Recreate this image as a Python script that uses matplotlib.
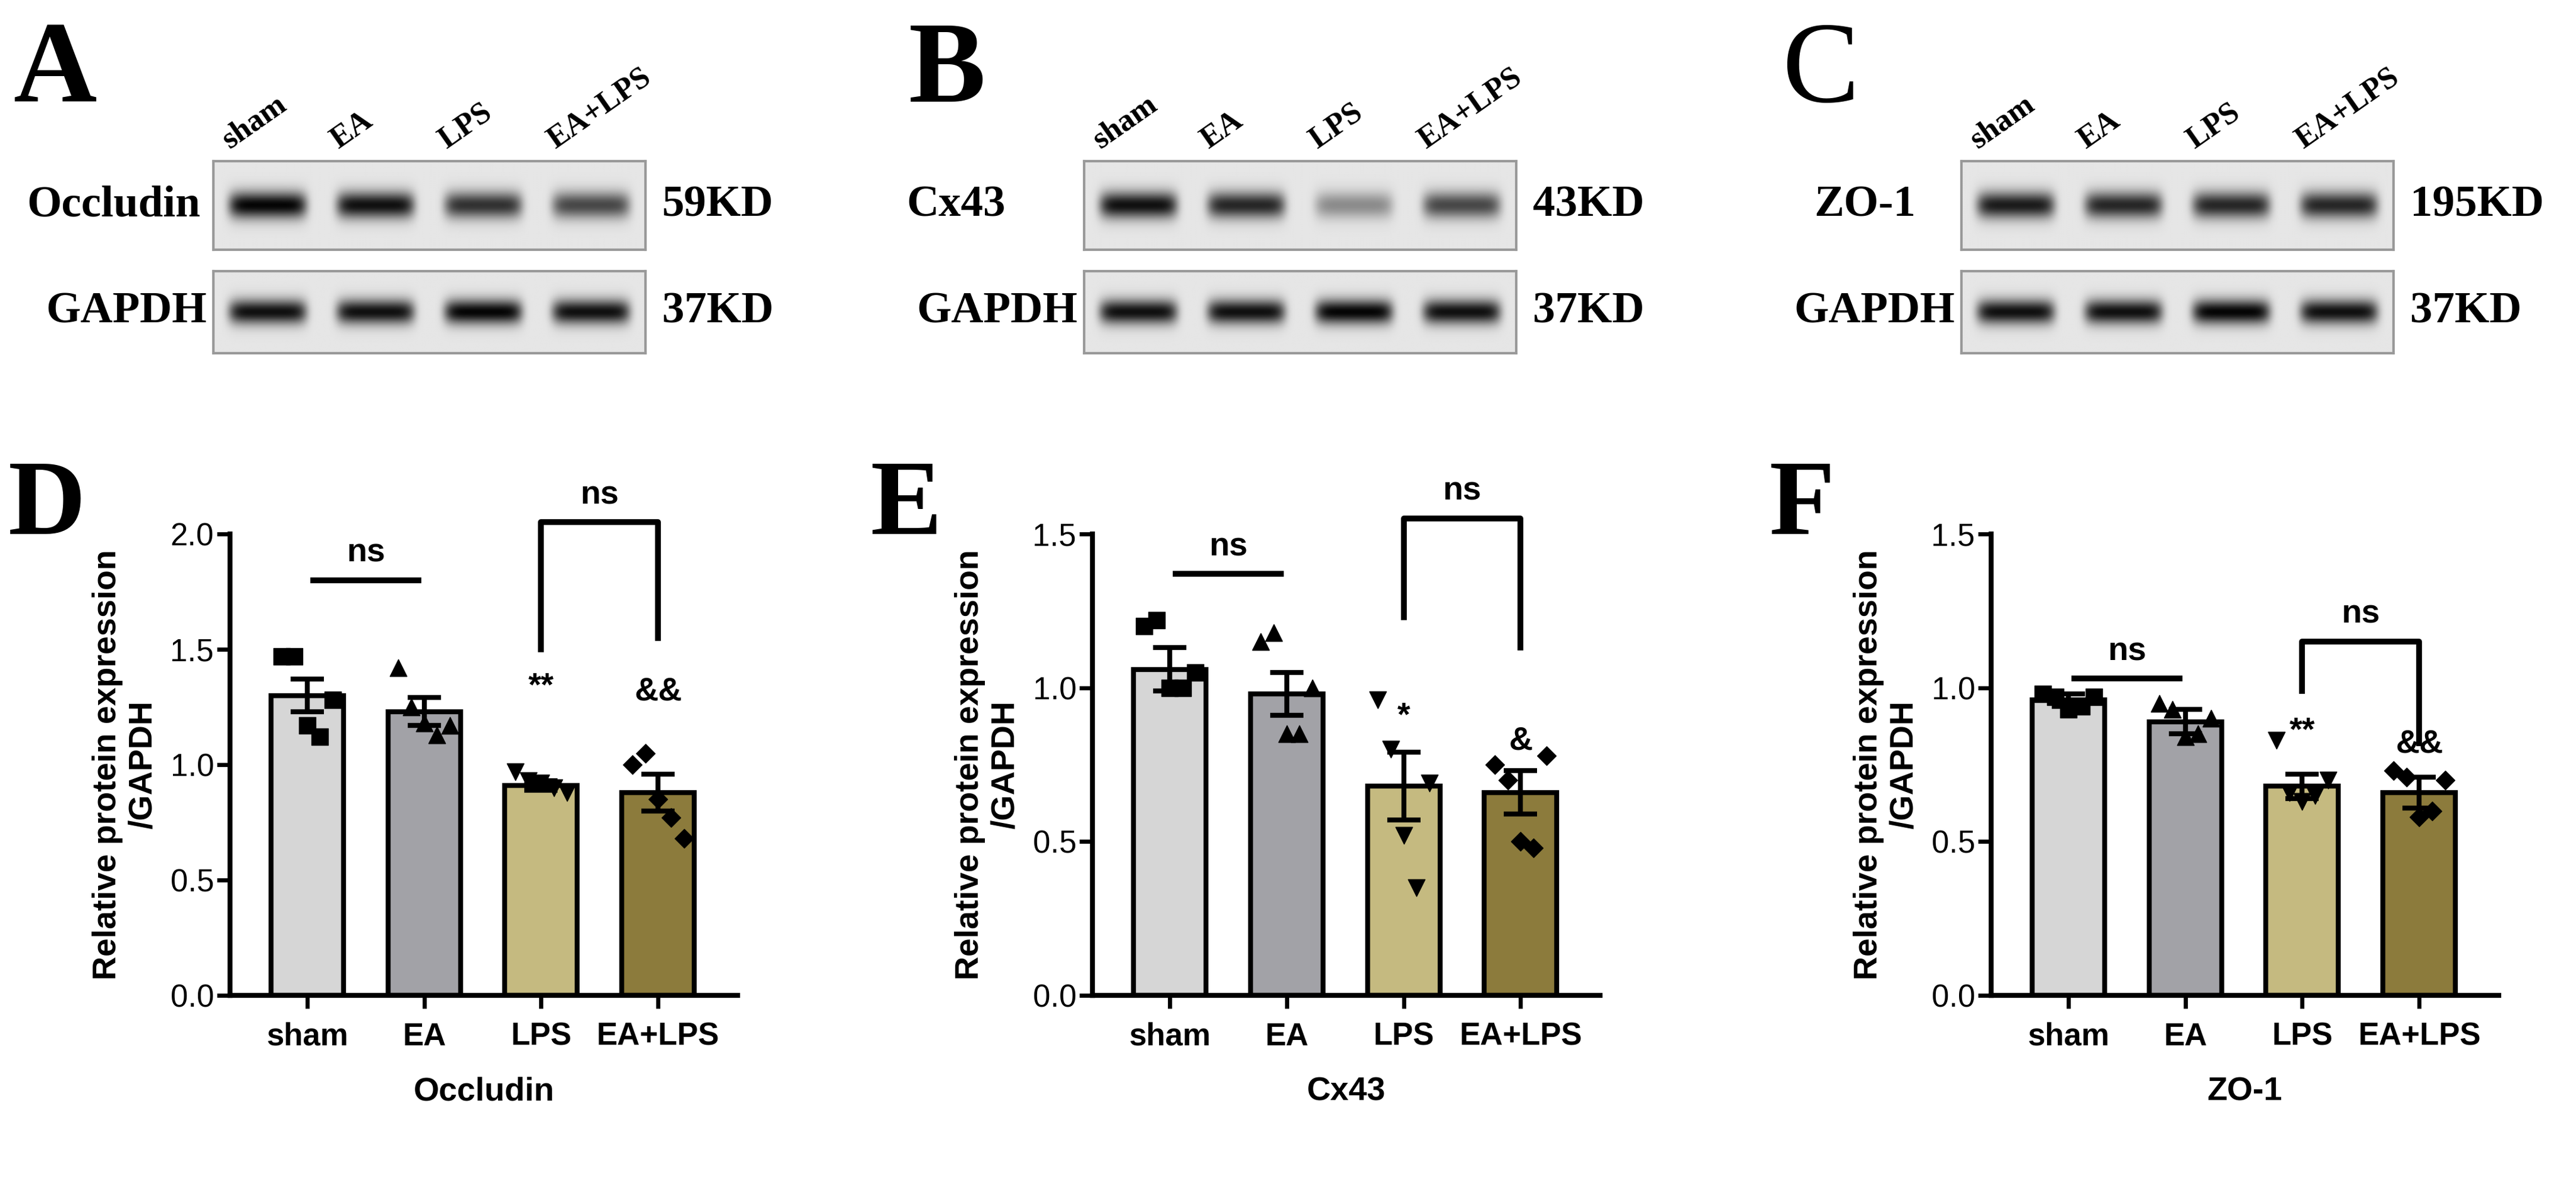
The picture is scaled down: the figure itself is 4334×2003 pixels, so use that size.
import numpy as np
import matplotlib
matplotlib.use("Agg")
import matplotlib.pyplot as plt

groups = ["sham", "EA", "LPS", "EA+LPS"]
colors = ["#d6d6d6", "#a2a2a7", "#c5ba80", "#8c7b3c"]
markers = ["s", "^", "v", "D"]

# bar charts: means, sem, individual points
occ_mean = [1.30, 1.23, 0.91, 0.88]
occ_sem = [0.07, 0.06, 0.02, 0.08]
occ_pts = [[1.47, 1.47, 1.17, 1.12, 1.28],
           [1.42, 1.25, 1.18, 1.13, 1.17],
           [0.97, 0.93, 0.92, 0.90, 0.88],
           [1.00, 1.05, 0.85, 0.77, 0.68]]
cx_mean = [1.06, 0.98, 0.68, 0.66]
cx_sem = [0.07, 0.07, 0.11, 0.07]
cx_pts = [[1.20, 1.22, 1.00, 1.00, 1.05],
          [1.15, 1.18, 0.85, 0.85, 1.00],
          [0.96, 0.80, 0.52, 0.35, 0.69],
          [0.75, 0.70, 0.50, 0.48, 0.78]]
zo_mean = [0.96, 0.89, 0.68, 0.66]
zo_sem = [0.02, 0.04, 0.04, 0.05]
zo_pts = [[0.98, 0.97, 0.93, 0.94, 0.97],
          [0.95, 0.93, 0.84, 0.85, 0.90],
          [0.83, 0.66, 0.63, 0.65, 0.70],
          [0.73, 0.71, 0.58, 0.60, 0.70]]

# blot band intensities per lane (0..1)
occ_band = [1.0, 0.95, 0.8, 0.7]
cx_band = [0.95, 0.85, 0.4, 0.7]
zo_band = [0.9, 0.85, 0.85, 0.85]
gapdh_band = [0.95, 0.95, 1.0, 0.95]

W, H = 1568.0, 725.0
fig = plt.figure(figsize=(43.34, 20.03), dpi=100)


def box(x0, x1, y0, y1):
    return [x0 / W, 1 - y1 / H, (x1 - x0) / W, (y1 - y0) / H]


def blot(x0, x1, y0, y1, lanes):
    ax = fig.add_axes(box(x0, x1, y0, y1))
    nx, ny = 400, 100
    xx = np.linspace(0, 4, nx)
    yy = np.linspace(-1, 1, ny)
    img = np.zeros((ny, nx))
    for i, v in enumerate(lanes):
        lx = np.exp(-((xx - (i + 0.5)) / 0.36) ** 8)
        ly = np.exp(-(yy / 0.3) ** 2)
        img += v * np.outer(ly, lx)
    img = 0.9 - 0.88 * np.clip(img, 0, 1)
    ax.imshow(img, cmap="gray", vmin=0, vmax=1, aspect="auto")
    ax.set_xticks([])
    ax.set_yticks([])
    for s in ax.spines.values():
        s.set_color("#999999")
        s.set_linewidth(3)


serif = "Liberation Serif"


def blot_panel(letter, lx, name, nx, band, kd, bx0, bold=True):
    fw = "bold" if bold else "normal"
    fig.text(lx / W, 1 - 62 / H, letter, fontsize=140, fontweight=fw, family=serif)
    bx1 = bx0 + 263
    blot(bx0, bx1, 98, 152, band)
    blot(bx0, bx1, 165, 215, gapdh_band)
    fig.text(nx / W, 1 - 125 / H, name, fontsize=54, fontweight="bold", family=serif,
             ha="right", va="center")
    fig.text((bx0 - 4) / W, 1 - 190 / H, "GAPDH", fontsize=54, fontweight="bold",
             family=serif, ha="right", va="center")
    fig.text((bx1 + 10) / W, 1 - 125 / H, kd, fontsize=54, fontweight="bold",
             family=serif, va="center")
    fig.text((bx1 + 10) / W, 1 - 190 / H, "37KD", fontsize=54, fontweight="bold",
             family=serif, va="center")
    for i, g in enumerate(groups):
        fig.text((bx0 + 12 + i * 66) / W, 1 - 94 / H, g, fontsize=38, fontweight="bold",
                 family=serif, rotation=35, ha="left", va="bottom",
                 rotation_mode="anchor")


blot_panel("A", 8, "Occludin", 122, occ_band, "59KD", 130)
blot_panel("B", 553, "Cx43", 612, cx_band, "43KD", 660)
blot_panel("C", 1085, "ZO-1", 1166, zo_band, "195KD", 1194, bold=False)

plt.rcParams["font.family"] = ["Liberation Sans", "DejaVu Sans"]


def bar_panel(letter, ax_x, means, sems, pts, ymax, yticks, xlabel, sig_line, bracket,
              stars):
    ax = fig.add_axes(box(ax_x, ax_x + 309, 325, 606))
    x = np.arange(4)
    ax.bar(x, means, width=0.62, color=colors, edgecolor="black", linewidth=6, zorder=1)
    for i in range(4):
        ax.scatter(np.linspace(i - 0.22, i + 0.22, 5), pts[i], marker=markers[i],
                   s=420 if markers[i] != "D" else 260, color="black", zorder=3)
    ax.errorbar(x, means, yerr=sems, fmt="none", ecolor="black", elinewidth=6,
                capsize=20, capthick=6, zorder=4)
    ax.set_xlim(-0.66, 3.68)
    ax.set_ylim(0, ymax)
    ax.set_yticks(yticks)
    ax.set_yticklabels(["%.1f" % t for t in yticks])
    ax.set_xticks(x)
    ax.set_xticklabels(groups, fontweight="bold")
    ax.tick_params(labelsize=38, width=5, length=16)
    ax.tick_params(axis="x", pad=16)
    for s in ["top", "right"]:
        ax.spines[s].set_visible(False)
    for s in ["left", "bottom"]:
        ax.spines[s].set_linewidth(6)
    ax.set_xlabel(xlabel, fontsize=40, fontweight="bold", labelpad=30)
    ax.set_ylabel("Relative protein expression\n/GAPDH", fontsize=40, fontweight="bold",
                  labelpad=14)
    # sham vs EA line
    ax.plot([0.05, 0.95], [sig_line, sig_line], color="black", lw=7, clip_on=False)
    ax.text(0.5, sig_line + 0.04 * ymax, "ns", ha="center", fontsize=40, fontweight="bold")
    top, l1, l2 = bracket
    ax.plot([2, 2, 3, 3], [l1, top, top, l2], color="black", lw=7, clip_on=False)
    ax.text(2.5, top + 0.04 * ymax, "ns", ha="center", fontsize=40, fontweight="bold",
            clip_on=False)
    for i, (s, y) in zip([2, 3], stars):
        ax.text(i, y, s, ha="center", fontsize=40, fontweight="bold")
    fig.text((ax_x - 135) / W, 1 - 325 / H, letter, fontsize=130, fontweight="bold",
             family=serif)


bar_panel("D", 140, occ_mean, occ_sem, occ_pts, 2.0, [0.0, 0.5, 1.0, 1.5, 2.0],
          "Occludin", 1.80, (2.05, 1.50, 1.55), [("**", 1.30), ("&&", 1.28)])
bar_panel("E", 665, cx_mean, cx_sem, cx_pts, 1.5, [0.0, 0.5, 1.0, 1.5],
          "Cx43", 1.37, (1.55, 1.23, 1.13), [("*", 0.88), ("&", 0.80)])
bar_panel("F", 1212, zo_mean, zo_sem, zo_pts, 1.5, [0.0, 0.5, 1.0, 1.5],
          "ZO-1", 1.03, (1.15, 0.99, 0.82), [("**", 0.83), ("&&", 0.79)])

fig.savefig("out.png", dpi=100)
